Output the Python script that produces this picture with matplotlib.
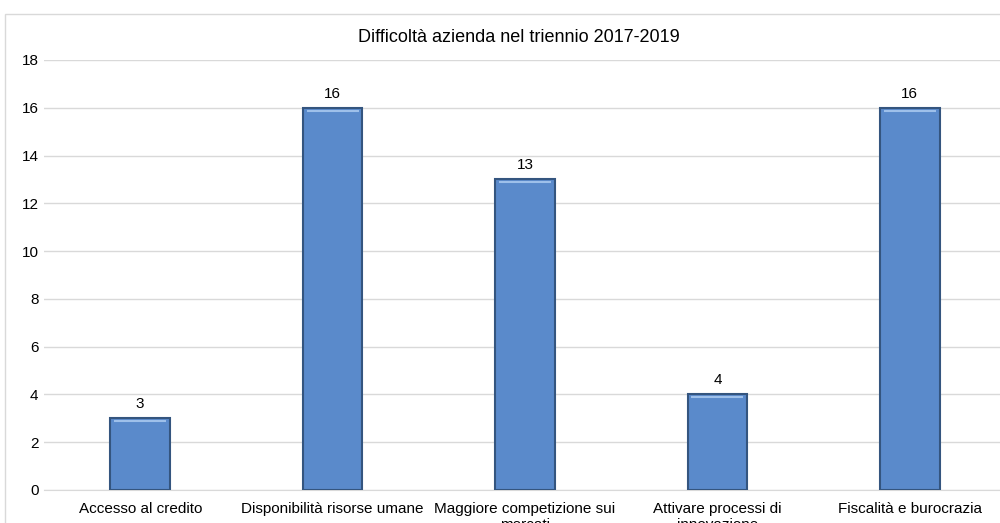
import matplotlib
matplotlib.use("Agg")
import matplotlib.pyplot as plt
from matplotlib.patches import Rectangle

categories = ["Accesso al credito", "Disponibilità risorse umane",
              "Maggiore competizione sui\nmercati", "Attivare processi di\ninnovazione",
              "Fiscalità e burocrazia"]
values = [3, 16, 13, 4, 16]
yticks = [0, 2, 4, 6, 8, 10, 12, 14, 16, 18]
title = "Difficoltà azienda nel triennio 2017-2019"

plt.rcParams['font.family'] = ['Liberation Sans', 'DejaVu Sans']

fig = plt.figure(figsize=(10, 5.23), dpi=100)
fig.patch.set_facecolor('white')

# chart frame
fig.add_artist(Rectangle((0.005, -0.1), 1.2, 1.073, transform=fig.transFigure,
                         fill=False, edgecolor='#D9D9D9', linewidth=1.0))

ax = fig.add_axes([0.044, 0.0631, 0.962, 0.8222])
x = list(range(len(categories)))
bars = ax.bar(x, values, width=0.31, color='#5A8ACB', edgecolor='#34557F',
              linewidth=1.5, zorder=3)
# top highlight for bevel look
for xi, v in zip(x, values):
    ax.plot([xi - 0.135, xi + 0.135], [v - 0.12, v - 0.12], color='#9EC0EA',
            linewidth=1.5, zorder=4, solid_capstyle='butt')

for xi, v in zip(x, values):
    ax.text(xi, v + 0.3, str(v), ha='center', va='bottom', fontsize=11, color='black')

ax.set_xlim(-0.5, len(categories) - 0.5)
ax.set_ylim(0, 18)
ax.set_yticks(yticks)
ax.set_xticks(x)
ax.set_xticklabels(categories, fontsize=11, color='black', linespacing=1.15)
ax.tick_params(axis='y', labelsize=11, colors='black', length=0, pad=4)
ax.tick_params(axis='x', length=0, pad=9)
ax.grid(axis='y', color='#D9D9D9', linewidth=1.0, zorder=0)
for s in ['top', 'right', 'left']:
    ax.spines[s].set_visible(False)
ax.spines['bottom'].set_color('#D9D9D9')
ax.set_facecolor('none')

fig.text(0.519, 0.929, title, ha='center', va='center', fontsize=13, color='black')

fig.savefig("out.png", dpi=100)
